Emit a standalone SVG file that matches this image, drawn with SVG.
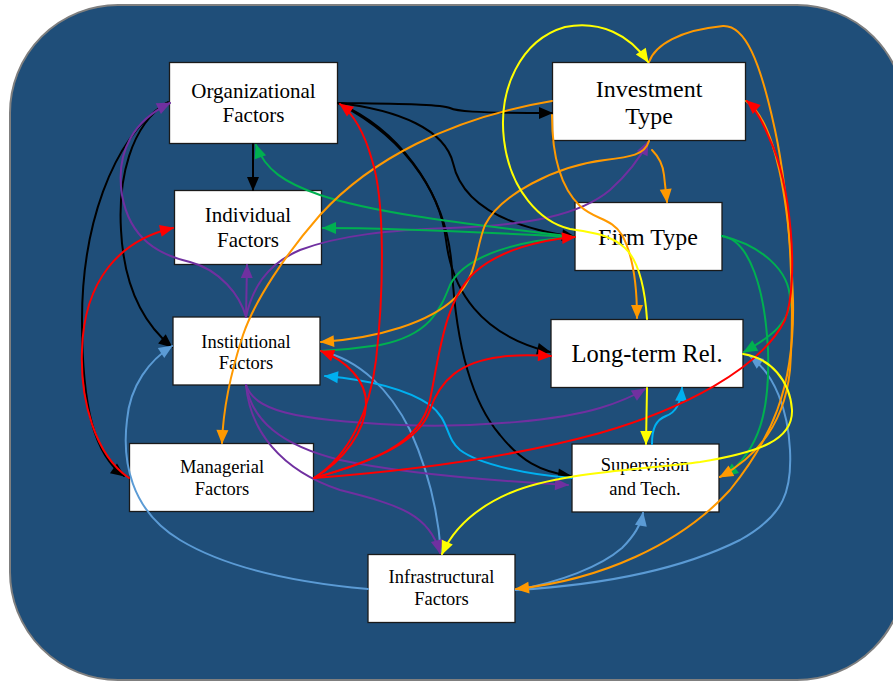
<svg xmlns="http://www.w3.org/2000/svg" width="893" height="682" viewBox="0 0 893 682">
<style>
.node rect{fill:#fff;stroke:#1a1a1a;stroke-width:1.3}
.node text{font-family:"Liberation Serif","Times New Roman",serif;fill:#000;text-anchor:middle}
.c path{fill:none;stroke-width:2;stroke-linecap:round}
.k{stroke:#000}.r{stroke:#FF0000}.g{stroke:#00B050}.o{stroke:#FF9900}.y{stroke:#FFFF00}.p{stroke:#7030A0}.lb{stroke:#5B9BD5}.cy{stroke:#00B0F0}
</style>
<defs>
<marker id="ak" markerUnits="userSpaceOnUse" markerWidth="14" markerHeight="12" refX="13" refY="6" orient="auto" overflow="visible"><path d="M0,0 L14,6 L0,12 z" fill="#000"/></marker>
<marker id="ar" markerUnits="userSpaceOnUse" markerWidth="14" markerHeight="12" refX="13" refY="6" orient="auto" overflow="visible"><path d="M0,0 L14,6 L0,12 z" fill="#FF0000"/></marker>
<marker id="ag" markerUnits="userSpaceOnUse" markerWidth="14" markerHeight="12" refX="13" refY="6" orient="auto" overflow="visible"><path d="M0,0 L14,6 L0,12 z" fill="#00B050"/></marker>
<marker id="ao" markerUnits="userSpaceOnUse" markerWidth="14" markerHeight="12" refX="13" refY="6" orient="auto" overflow="visible"><path d="M0,0 L14,6 L0,12 z" fill="#FF9900"/></marker>
<marker id="ay" markerUnits="userSpaceOnUse" markerWidth="14" markerHeight="12" refX="13" refY="6" orient="auto" overflow="visible"><path d="M0,0 L14,6 L0,12 z" fill="#FFFF00"/></marker>
<marker id="ap" markerUnits="userSpaceOnUse" markerWidth="14" markerHeight="12" refX="13" refY="6" orient="auto" overflow="visible"><path d="M0,0 L14,6 L0,12 z" fill="#7030A0"/></marker>
<marker id="alb" markerUnits="userSpaceOnUse" markerWidth="14" markerHeight="12" refX="13" refY="6" orient="auto" overflow="visible"><path d="M0,0 L14,6 L0,12 z" fill="#5B9BD5"/></marker>
<marker id="acy" markerUnits="userSpaceOnUse" markerWidth="14" markerHeight="12" refX="13" refY="6" orient="auto" overflow="visible"><path d="M0,0 L14,6 L0,12 z" fill="#00B0F0"/></marker>
</defs>
<rect id="background" x="10" y="5" width="895" height="675" rx="108" fill="#1F4E79" stroke="#7F7F7F" stroke-width="2"/>

<g id="org" class="node"><rect x="169.5" y="62.5" width="168" height="81"/><text x="253.5" y="98" font-size="21">Organizational</text><text x="253.5" y="122" font-size="21">Factors</text></g>
<g id="ind" class="node"><rect x="174.5" y="190.5" width="147" height="74"/><text x="248" y="222" font-size="21">Individual</text><text x="248" y="247" font-size="21">Factors</text></g>
<g id="inv" class="node"><rect x="552.5" y="62.5" width="193" height="78"/><text x="649" y="97" font-size="24">Investment</text><text x="649" y="124" font-size="24">Type</text></g>
<g id="firm" class="node"><rect x="575" y="202.5" width="147" height="68"/><text x="648" y="245" font-size="24">Firm Type</text></g>
<g id="inst" class="node"><rect x="173" y="317" width="147" height="68"/><text x="246" y="348" font-size="18.5">Institutional</text><text x="246" y="369" font-size="18.5">Factors</text></g>
<g id="man" class="node"><rect x="129.5" y="443.5" width="184" height="68"/><text x="222" y="473" font-size="18.5">Managerial</text><text x="222" y="495" font-size="18.5">Factors</text></g>
<g id="lt" class="node"><rect x="551" y="319.5" width="192" height="68"/><text x="647" y="362" font-size="24.5">Long-term Rel.</text></g>
<g id="sup" class="node"><rect x="572" y="444" width="147" height="68"/><text x="645" y="471" font-size="18.5">Supervision</text><text x="645" y="495" font-size="18.5">and Tech.</text></g>
<g id="infra" class="node"><rect x="368" y="554.5" width="147" height="68"/><text x="441.5" y="583" font-size="18.5">Infrastructural</text><text x="441.5" y="605" font-size="18.5">Factors</text></g>

<g id="connectors" class="c">
<!-- black -->
<path class="k" d="M253,144 L253,190" marker-end="url(#ak)"/>
<path class="k" d="M168,102 C130,125 118,180 121,230 C124,290 145,325 172,347" marker-end="url(#ak)"/>
<path class="k" d="M166,103 C110,140 82,230 82,320 C82,410 95,455 124,476" marker-end="url(#ak)"/>
<path class="k" d="M338,103 C400,104 440,104 450,108 C456,111 470,113 552,113" marker-end="url(#ak)"/>
<path class="k" d="M338,103 C400,110 445,130 453,163 C460,195 490,225 575,237" marker-end="url(#ak)"/>
<path class="k" d="M338,103 C400,130 440,190 446,240 C452,290 480,335 550,352" marker-end="url(#ak)"/>
<path class="k" d="M338,103 C410,140 448,200 452,270 C456,340 470,400 500,435 C520,460 540,472 571,476" marker-end="url(#ak)"/>
<!-- light blue -->
<path class="lb" d="M368,589 C300,583 230,570 180,540 C130,510 122,460 127,420 C130,385 150,360 172,346" marker-end="url(#alb)"/>
<path class="lb" d="M516,590 C560,582 600,567 622,548 C635,535 641,525 643,513" marker-end="url(#alb)"/>
<path class="lb" d="M516,590 C600,585 680,570 740,540 C785,515 792,490 790,450 C788,410 775,375 750,356" marker-end="url(#alb)"/>
<path class="lb" d="M321,351 C360,360 390,390 410,430 C428,470 438,510 441,553"/>
<!-- purple -->
<path class="p" d="M246,317 C240,295 220,270 190,262 C160,255 130,240 122,195 C115,150 135,120 170,103" marker-end="url(#ap)"/>
<path class="p" d="M246,317 L247,265" marker-end="url(#ap)"/>
<path class="p" d="M246,317 C252,290 265,265 300,250 C340,235 390,230 450,228 C530,225 580,215 610,190 C630,172 640,158 648,142" marker-end="url(#ap)"/>
<path class="p" d="M246,385 C255,410 290,420 400,425 C480,428 560,420 600,408 C620,402 635,395 645,389" marker-end="url(#ap)"/>
<path class="p" d="M246,385 C252,420 280,445 340,460 C400,473 480,480 568,485" marker-end="url(#ap)"/>
<path class="p" d="M246,385 C250,430 280,470 340,490 C400,505 430,515 440,553" marker-end="url(#ap)"/>
<!-- green -->
<path class="g" d="M575,237 C480,225 380,215 320,195 C285,183 265,170 256,145" marker-end="url(#ag)"/>
<path class="g" d="M575,237 C480,232 400,228 323,228" marker-end="url(#ag)"/>
<path class="g" d="M575,237 C520,240 465,255 450,285 C440,310 430,335 380,345 C360,348 340,350 321,351"/>
<path class="g" d="M722,236 C760,245 790,270 790,300 C790,325 765,340 744,352" marker-end="url(#ag)"/>
<path class="g" d="M722,236 C750,240 765,290 768,350 C770,410 760,450 725,476" marker-end="url(#ag)"/>
<!-- cyan -->
<path class="cy" d="M572,478 C530,475 480,465 460,450 C445,438 450,420 430,405 C405,388 370,380 325,376" marker-end="url(#acy)"/>
<path class="cy" d="M652,444 C652,428 656,420 666,416 C677,412 681,402 682,388" marker-end="url(#acy)"/>
<!-- orange -->
<path class="o" d="M552,101 C450,118 370,160 320,215 C285,255 255,300 243,335 C230,375 223,410 222,443" marker-end="url(#ao)"/>
<path class="o" d="M649,141 C645,155 630,157 605,160 C555,166 500,195 485,225 C475,250 478,275 455,298 C430,322 380,338 321,342" marker-end="url(#ao)"/>
<path class="o" d="M652,150 C660,158 663,165 664,175 C665,185 666,192 667,202" marker-end="url(#ao)"/>
<path class="o" d="M552,115 C552,150 558,185 580,206 C595,220 612,218 622,235 C633,255 637,285 637,318" marker-end="url(#ao)"/>
<path class="o" d="M649,62 C655,45 680,30 723,26 C745,25 760,60 775,130 C790,200 795,300 790,370 C785,420 760,455 720,477" marker-end="url(#ao)"/>
<path class="o" d="M746,101 C775,120 790,200 793,300 C795,390 770,440 730,490 C680,545 600,580 516,589" marker-end="url(#ao)"/>
<!-- red -->
<path class="r" d="M314,478 C350,455 370,410 376,360 C384,290 385,200 372,160 C365,135 355,115 340,104" marker-end="url(#ar)"/>
<path class="r" d="M314,478 C345,460 365,430 366,405 C367,380 345,360 321,351" marker-end="url(#ar)"/>
<path class="r" d="M129,478 C95,455 80,400 82,350 C84,280 120,240 173,228" marker-end="url(#ar)"/>
<path class="r" d="M314,478 C370,462 420,445 430,400 C440,350 445,300 475,272 C500,250 540,240 575,237" marker-end="url(#ar)"/>
<path class="r" d="M314,478 C380,460 420,440 430,410 C440,380 460,362 500,357 C520,354 535,355 551,356" marker-end="url(#ar)"/>
<path class="r" d="M314,478 C420,470 520,455 600,433 C680,410 760,370 785,320 C800,280 790,180 770,140 C762,120 755,108 747,101" marker-end="url(#ar)"/>
<!-- yellow -->
<path class="y" d="M647,319 C645,290 640,262 625,248 C610,234 590,232 570,229 C540,222 510,190 504,140 C498,90 520,40 565,27 C600,20 630,35 648,62" marker-end="url(#ay)"/>
<path class="y" d="M647,388 L646,444" marker-end="url(#ay)"/>
<path class="y" d="M743,354 C770,358 790,380 792,410 C793,440 760,452 700,462 C640,470 560,472 510,493 C480,506 455,525 442,554" marker-end="url(#ay)"/>
</g>
</svg>
